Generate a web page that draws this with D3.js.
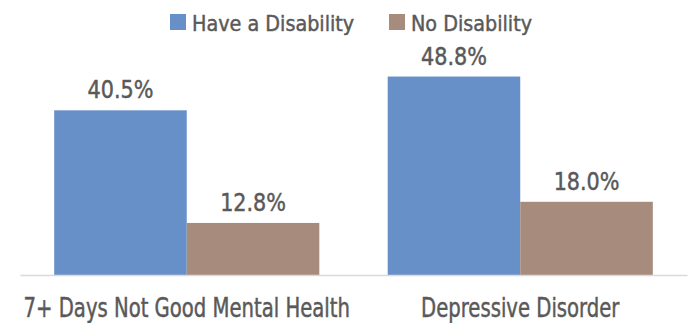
<!DOCTYPE html>
<html>
<head>
<meta charset="utf-8">
<script src="https://cdn.jsdelivr.net/npm/d3@7"></script>
<style>
  html, body { margin: 0; padding: 0; background: #fff; }
  svg text { font-family: "DejaVu Sans Condensed", "Liberation Sans Narrow", sans-serif; fill: #595959; stroke: #595959; stroke-width: 0.45px; }
</style>
</head>
<body>
<svg id="chart" width="690" height="323"></svg>
<script>
// Share of adults reporting each outcome, by disability status (%)
const categories = ["7+ Days Not Good Mental Health", "Depressive Disorder"];
const seriesNames = ["Have a Disability", "No Disability"];
const haveDisability = [40.5, 48.8];
const noDisability = [12.8, 18.0];
const colors = ["#6890c8", "#a78b7c"];

const W = 690, H = 323;
const margin = { left: 20, right: 3, top: 31, bottom: 48 };
const svg = d3.select("#chart");

const rows = categories.map((c, i) => ({ category: c, values: [haveDisability[i], noDisability[i]] }));

const x0 = d3.scaleBand()
  .domain(categories)
  .range([margin.left, W - margin.right])
  .paddingInner(0.205)
  .paddingOuter(0.1025);

const x1 = d3.scaleBand()
  .domain(seriesNames)
  .range([0, x0.bandwidth()])
  .padding(0);

const y = d3.scaleLinear()
  .domain([0, 60])
  .range([H - margin.bottom, margin.top]);

// Narrow text: place at (x, y) and squeeze horizontally around the anchor
function narrowText(sel, sx) {
  return sel.attr("transform", d => `translate(${d.tx},${d.ty}) scale(${sx},1)`);
}

// Bars
const groups = svg.append("g").selectAll("g")
  .data(rows)
  .join("g")
  .attr("transform", d => `translate(${x0(d.category)},0)`);

groups.selectAll("rect")
  .data(d => d.values.map((v, j) => ({ name: seriesNames[j], value: v, j })))
  .join("rect")
  .attr("x", d => x1(d.name))
  .attr("y", d => y(d.value))
  .attr("width", x1.bandwidth())
  .attr("height", d => y(0) - y(d.value))
  .attr("fill", d => colors[d.j]);

// Value labels
groups.selectAll("text.val")
  .data(d => d.values.map((v, j) => ({
    name: seriesNames[j], value: v,
    tx: x1(seriesNames[j]) + x1.bandwidth() / 2,
    ty: y(v) - 12
  })))
  .join("text")
  .attr("class", "val")
  .attr("text-anchor", "middle")
  .style("font-size", "24px")
  .call(narrowText, 0.96)
  .text(d => d.value.toFixed(1) + "%");

// Baseline axis with category labels
const xAxis = d3.axisBottom(x0).tickSize(0).tickSizeOuter(0).tickFormat(() => "");
const ax = svg.append("g")
  .attr("transform", `translate(0,${y(0)})`)
  .call(xAxis);
ax.select(".domain").attr("stroke", "#d9d9d9").attr("stroke-width", 1.3);

svg.append("g").selectAll("text")
  .data(categories.map(c => ({ name: c, tx: x0(c) + x0.bandwidth() / 2, ty: 316.5 })))
  .join("text")
  .attr("text-anchor", "middle")
  .style("font-size", "26px")
  .call(narrowText, 0.84)
  .text(d => d.name);

// Legend
const legendItems = [
  { name: seriesNames[0], color: colors[0], x: 170 },
  { name: seriesNames[1], color: colors[1], x: 389 }
];
const lg = svg.append("g").selectAll("g")
  .data(legendItems)
  .join("g")
  .attr("transform", d => `translate(${d.x},14)`);
lg.append("rect").attr("width", 16).attr("height", 16).attr("fill", d => d.color);
lg.append("text")
  .datum(() => ({ tx: 22, ty: 16.5 }))
  .style("font-size", "22px")
  .call(narrowText, 0.97)
  .text((d, i) => legendItems[i].name);
</script>
</body>
</html>
